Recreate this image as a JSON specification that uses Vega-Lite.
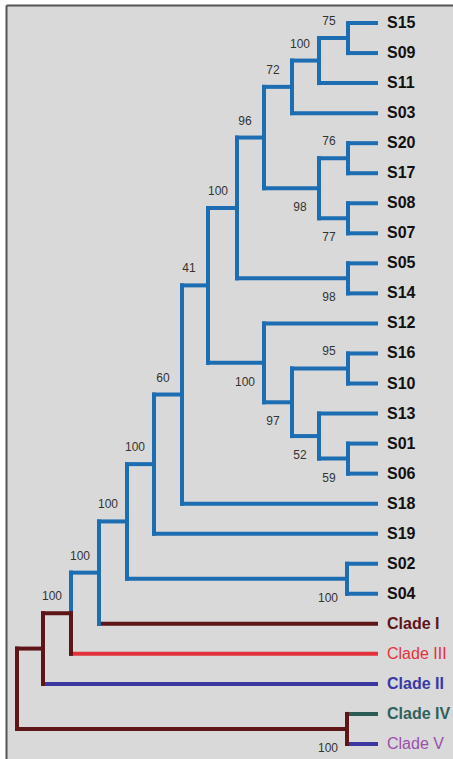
{
  "$schema": "https://vega.github.io/schema/vega-lite/v6.json",
  "width": 447,
  "height": 754,
  "autosize": {"type": "none"},
  "padding": {"left": 6, "top": 5, "right": 0, "bottom": 0},
  "background": "#ffffff",
  "config": {"view": {"stroke": null, "fill": "#d9d9d9"}},
  "datasets": {
    "branches": [
      {"x": 331, "x2": 359, "y": 0, "y2": 0, "c": "blue"},
      {"x": 331, "x2": 359, "y": 1, "y2": 1, "c": "blue"},
      {"x": 302, "x2": 359, "y": 2, "y2": 2, "c": "blue"},
      {"x": 275, "x2": 359, "y": 3, "y2": 3, "c": "blue"},
      {"x": 331, "x2": 359, "y": 4, "y2": 4, "c": "blue"},
      {"x": 331, "x2": 359, "y": 5, "y2": 5, "c": "blue"},
      {"x": 331, "x2": 359, "y": 6, "y2": 6, "c": "blue"},
      {"x": 331, "x2": 359, "y": 7, "y2": 7, "c": "blue"},
      {"x": 331, "x2": 359, "y": 8, "y2": 8, "c": "blue"},
      {"x": 331, "x2": 359, "y": 9, "y2": 9, "c": "blue"},
      {"x": 247, "x2": 359, "y": 10, "y2": 10, "c": "blue"},
      {"x": 331, "x2": 359, "y": 11, "y2": 11, "c": "blue"},
      {"x": 331, "x2": 359, "y": 12, "y2": 12, "c": "blue"},
      {"x": 302, "x2": 359, "y": 13, "y2": 13, "c": "blue"},
      {"x": 331, "x2": 359, "y": 14, "y2": 14, "c": "blue"},
      {"x": 331, "x2": 359, "y": 15, "y2": 15, "c": "blue"},
      {"x": 165, "x2": 359, "y": 16, "y2": 16, "c": "blue"},
      {"x": 137, "x2": 359, "y": 17, "y2": 17, "c": "blue"},
      {"x": 330, "x2": 359, "y": 18, "y2": 18, "c": "blue"},
      {"x": 330, "x2": 359, "y": 19, "y2": 19, "c": "blue"},
      {"x": 82, "x2": 359, "y": 20, "y2": 20, "c": "maroon"},
      {"x": 54, "x2": 359, "y": 21, "y2": 21, "c": "red"},
      {"x": 26, "x2": 359, "y": 22, "y2": 22, "c": "navy"},
      {"x": 330, "x2": 359, "y": 23, "y2": 23, "c": "teal"},
      {"x": 330, "x2": 359, "y": 24, "y2": 24, "c": "navy"},

      {"x": 331, "x2": 331, "y": 0, "y2": 1, "c": "blue"},
      {"x": 302, "x2": 302, "y": 0.5, "y2": 2, "c": "blue"},
      {"x": 275, "x2": 275, "y": 1.25, "y2": 3, "c": "blue"},
      {"x": 331, "x2": 331, "y": 4, "y2": 5, "c": "blue"},
      {"x": 331, "x2": 331, "y": 6, "y2": 7, "c": "blue"},
      {"x": 302, "x2": 302, "y": 4.5, "y2": 6.5, "c": "blue"},
      {"x": 247, "x2": 247, "y": 2.125, "y2": 5.5, "c": "blue"},
      {"x": 331, "x2": 331, "y": 8, "y2": 9, "c": "blue"},
      {"x": 220, "x2": 220, "y": 3.8125, "y2": 8.5, "c": "blue"},
      {"x": 331, "x2": 331, "y": 11, "y2": 12, "c": "blue"},
      {"x": 331, "x2": 331, "y": 14, "y2": 15, "c": "blue"},
      {"x": 302, "x2": 302, "y": 13, "y2": 14.5, "c": "blue"},
      {"x": 275, "x2": 275, "y": 11.5, "y2": 13.75, "c": "blue"},
      {"x": 247, "x2": 247, "y": 10, "y2": 12.625, "c": "blue"},
      {"x": 191, "x2": 191, "y": 6.15625, "y2": 11.3125, "c": "blue"},
      {"x": 165, "x2": 165, "y": 8.734, "y2": 16, "c": "blue"},
      {"x": 137, "x2": 137, "y": 12.367, "y2": 17, "c": "blue"},
      {"x": 330, "x2": 330, "y": 18, "y2": 19, "c": "blue"},
      {"x": 110, "x2": 110, "y": 14.684, "y2": 18.5, "c": "blue"},
      {"x": 82, "x2": 82, "y": 16.592, "y2": 20, "c": "blue"},
      {"x": 54, "x2": 54, "y": 18.296, "y2": 19.648, "c": "blue"},
      {"x": 54, "x2": 54, "y": 19.648, "y2": 21, "c": "maroon"},
      {"x": 26, "x2": 26, "y": 19.648, "y2": 22, "c": "maroon"},
      {"x": 330, "x2": 330, "y": 23, "y2": 24, "c": "maroon"},
      {"x": 0, "x2": 0, "y": 20.824, "y2": 23.5, "c": "maroon"},

      {"x": 302, "x2": 331, "y": 0.5, "y2": 0.5, "c": "blue"},
      {"x": 275, "x2": 302, "y": 1.25, "y2": 1.25, "c": "blue"},
      {"x": 247, "x2": 275, "y": 2.125, "y2": 2.125, "c": "blue"},
      {"x": 302, "x2": 331, "y": 4.5, "y2": 4.5, "c": "blue"},
      {"x": 302, "x2": 331, "y": 6.5, "y2": 6.5, "c": "blue"},
      {"x": 247, "x2": 302, "y": 5.5, "y2": 5.5, "c": "blue"},
      {"x": 220, "x2": 247, "y": 3.8125, "y2": 3.8125, "c": "blue"},
      {"x": 220, "x2": 331, "y": 8.5, "y2": 8.5, "c": "blue"},
      {"x": 191, "x2": 220, "y": 6.15625, "y2": 6.15625, "c": "blue"},
      {"x": 275, "x2": 331, "y": 11.5, "y2": 11.5, "c": "blue"},
      {"x": 302, "x2": 331, "y": 14.5, "y2": 14.5, "c": "blue"},
      {"x": 275, "x2": 302, "y": 13.75, "y2": 13.75, "c": "blue"},
      {"x": 247, "x2": 275, "y": 12.625, "y2": 12.625, "c": "blue"},
      {"x": 191, "x2": 247, "y": 11.3125, "y2": 11.3125, "c": "blue"},
      {"x": 165, "x2": 191, "y": 8.734, "y2": 8.734, "c": "blue"},
      {"x": 137, "x2": 165, "y": 12.367, "y2": 12.367, "c": "blue"},
      {"x": 110, "x2": 137, "y": 14.684, "y2": 14.684, "c": "blue"},
      {"x": 110, "x2": 330, "y": 18.5, "y2": 18.5, "c": "blue"},
      {"x": 82, "x2": 110, "y": 16.592, "y2": 16.592, "c": "blue"},
      {"x": 54, "x2": 82, "y": 18.296, "y2": 18.296, "c": "blue"},
      {"x": 26, "x2": 54, "y": 19.648, "y2": 19.648, "c": "maroon"},
      {"x": 0, "x2": 26, "y": 20.824, "y2": 20.824, "c": "maroon"},
      {"x": 0, "x2": 330, "y": 23.5, "y2": 23.5, "c": "maroon"}
    ],
    "support": [
      {"x": 331, "y": 0.5, "s": "75", "pos": "up"},
      {"x": 302, "y": 1.25, "s": "100", "pos": "up"},
      {"x": 275, "y": 2.125, "s": "72", "pos": "up"},
      {"x": 247, "y": 3.8125, "s": "96", "pos": "up"},
      {"x": 331, "y": 4.5, "s": "76", "pos": "up"},
      {"x": 302, "y": 5.5, "s": "98", "pos": "down"},
      {"x": 331, "y": 6.5, "s": "77", "pos": "down"},
      {"x": 331, "y": 8.5, "s": "98", "pos": "down"},
      {"x": 220, "y": 6.15625, "s": "100", "pos": "up"},
      {"x": 191, "y": 8.734, "s": "41", "pos": "up"},
      {"x": 247, "y": 11.3125, "s": "100", "pos": "down"},
      {"x": 331, "y": 11.5, "s": "95", "pos": "up"},
      {"x": 275, "y": 12.625, "s": "97", "pos": "down"},
      {"x": 302, "y": 13.75, "s": "52", "pos": "down"},
      {"x": 331, "y": 14.5, "s": "59", "pos": "down"},
      {"x": 165, "y": 12.367, "s": "60", "pos": "up"},
      {"x": 137, "y": 14.684, "s": "100", "pos": "up"},
      {"x": 110, "y": 16.592, "s": "100", "pos": "up"},
      {"x": 82, "y": 18.296, "s": "100", "pos": "up"},
      {"x": 54, "y": 19.648, "s": "100", "pos": "up"},
      {"x": 330, "y": 18.5, "s": "100", "pos": "down"},
      {"x": 330, "y": 23.5, "s": "100", "pos": "down"}
    ],
    "leaves": [
      {"name": "S15", "x": 359, "y": 0, "g": "S"},
      {"name": "S09", "x": 359, "y": 1, "g": "S"},
      {"name": "S11", "x": 359, "y": 2, "g": "S"},
      {"name": "S03", "x": 359, "y": 3, "g": "S"},
      {"name": "S20", "x": 359, "y": 4, "g": "S"},
      {"name": "S17", "x": 359, "y": 5, "g": "S"},
      {"name": "S08", "x": 359, "y": 6, "g": "S"},
      {"name": "S07", "x": 359, "y": 7, "g": "S"},
      {"name": "S05", "x": 359, "y": 8, "g": "S"},
      {"name": "S14", "x": 359, "y": 9, "g": "S"},
      {"name": "S12", "x": 359, "y": 10, "g": "S"},
      {"name": "S16", "x": 359, "y": 11, "g": "S"},
      {"name": "S10", "x": 359, "y": 12, "g": "S"},
      {"name": "S13", "x": 359, "y": 13, "g": "S"},
      {"name": "S01", "x": 359, "y": 14, "g": "S"},
      {"name": "S06", "x": 359, "y": 15, "g": "S"},
      {"name": "S18", "x": 359, "y": 16, "g": "S"},
      {"name": "S19", "x": 359, "y": 17, "g": "S"},
      {"name": "S02", "x": 359, "y": 18, "g": "S"},
      {"name": "S04", "x": 359, "y": 19, "g": "S"},
      {"name": "Clade I", "x": 359, "y": 20, "g": "I"},
      {"name": "Clade III", "x": 359, "y": 21, "g": "III"},
      {"name": "Clade II", "x": 359, "y": 22, "g": "II"},
      {"name": "Clade IV", "x": 359, "y": 23, "g": "IV"},
      {"name": "Clade V", "x": 359, "y": 24, "g": "V"}
    ]
  },
  "encoding": {
    "x": {"field": "x", "type": "quantitative", "scale": {"domain": [-11, 436], "nice": false, "zero": false},
      "axis": {"orient": "top", "title": null, "labels": false, "ticks": false, "grid": false, "domain": true, "domainColor": "#555555", "domainWidth": 2}},
    "y": {"field": "y", "type": "quantitative", "scale": {"domain": [-0.6, 24.5], "nice": false, "zero": false, "reverse": true},
      "axis": {"orient": "left", "title": null, "labels": false, "ticks": false, "grid": false, "domain": true, "domainColor": "#555555", "domainWidth": 2}}
  },
  "layer": [
    {
      "data": {"name": "branches"},
      "mark": {"type": "rule", "strokeWidth": 4, "strokeCap": "square"},
      "encoding": {
        "x2": {"field": "x2"},
        "y2": {"field": "y2"},
        "stroke": {"field": "c", "type": "nominal", "legend": null,
          "scale": {"domain": ["blue", "maroon", "red", "navy", "teal"], "range": ["#1c6db2", "#5e1518", "#e3313b", "#3c36a0", "#2b5c55"]}}
      }
    },
    {
      "data": {"name": "support"},
      "transform": [{"filter": "datum.pos === 'up'"}],
      "mark": {"type": "text", "font": "Liberation Sans", "fontSize": 12, "fill": "#333333", "align": "center", "baseline": "middle", "dx": -19, "dy": -17},
      "encoding": {"text": {"field": "s"}}
    },
    {
      "data": {"name": "support"},
      "transform": [{"filter": "datum.pos === 'down'"}],
      "mark": {"type": "text", "font": "Liberation Sans", "fontSize": 12, "fill": "#333333", "align": "center", "baseline": "middle", "dx": -19, "dy": 19},
      "encoding": {"text": {"field": "s"}}
    },
    {
      "data": {"name": "leaves"},
      "transform": [{"filter": {"not": {"field": "name", "oneOf": ["Clade III", "Clade V"]}}}],
      "mark": {"type": "text", "font": "Liberation Sans", "fontSize": 16, "fontWeight": "bold", "align": "left", "baseline": "middle", "dx": 11},
      "encoding": {
        "text": {"field": "name"},
        "fill": {"field": "g", "type": "nominal", "legend": null,
          "scale": {"domain": ["S", "I", "III", "II", "IV", "V"], "range": ["#111111", "#5e1518", "#e3313b", "#3a38a5", "#2f625c", "#9a4fa9"]}}
      }
    },
    {
      "data": {"name": "leaves"},
      "transform": [{"filter": {"field": "name", "oneOf": ["Clade III", "Clade V"]}}],
      "mark": {"type": "text", "font": "Liberation Sans", "fontSize": 16, "align": "left", "baseline": "middle", "dx": 11},
      "encoding": {
        "text": {"field": "name"},
        "fill": {"field": "g", "type": "nominal", "legend": null}
      }
    }
  ]
}
